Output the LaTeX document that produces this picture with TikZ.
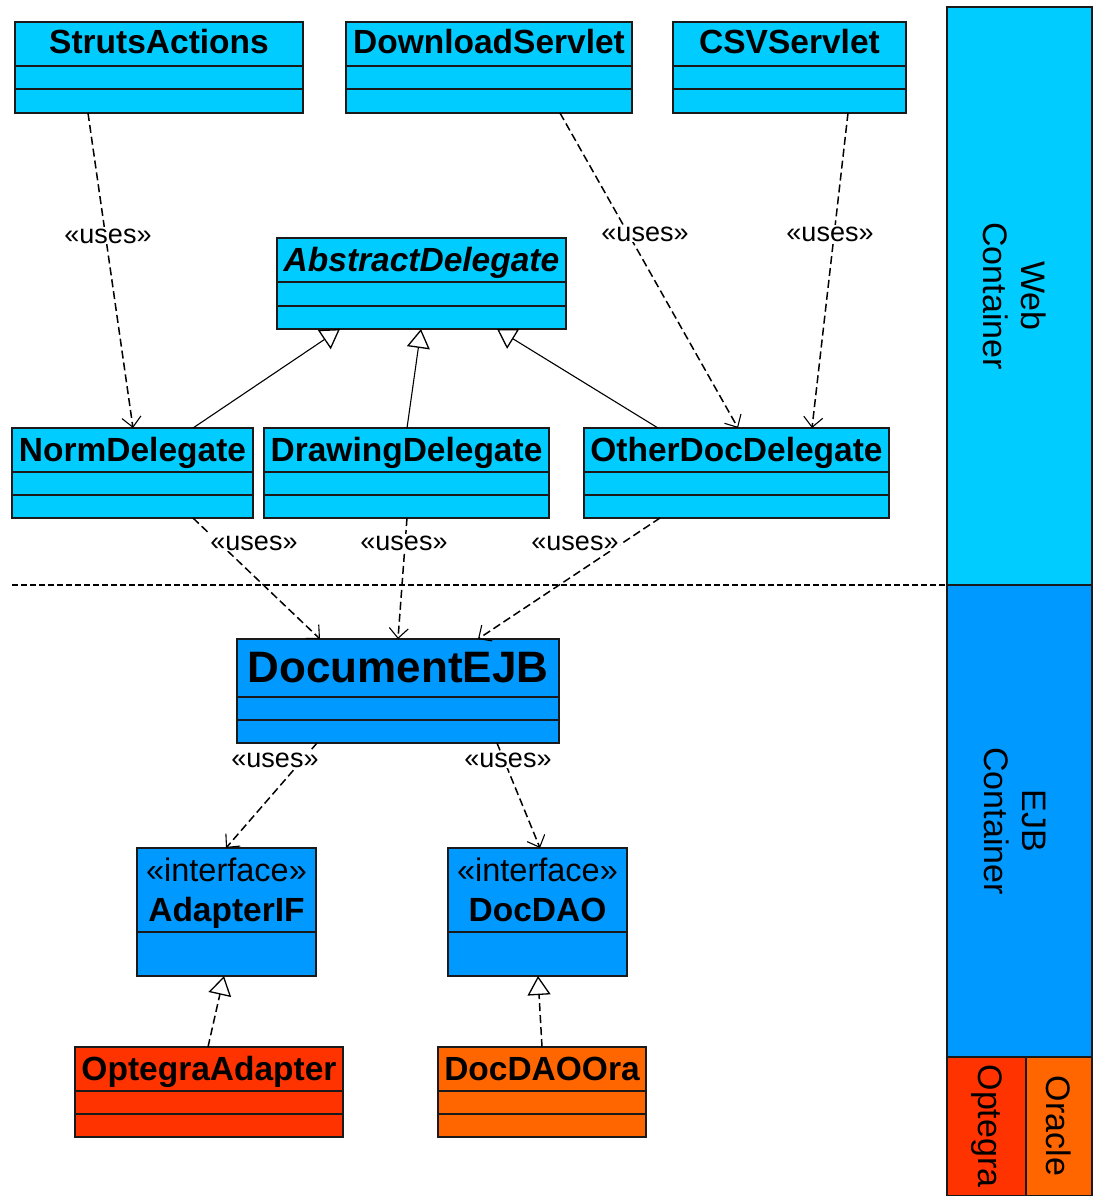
\documentclass[tikz,border=0pt]{standalone}
\usepackage{fontspec}
\setmainfont{Liberation Sans}
\usetikzlibrary{arrows.meta,fit}
\definecolor{lblue}{HTML}{00CCFF}
\definecolor{mblue}{HTML}{0099FF}
\definecolor{ored}{HTML}{FF3300}
\definecolor{oorange}{HTML}{FF6600}
\definecolor{edge}{HTML}{1A1A1A}
\tikzset{
  box/.style={draw=edge, line width=1.3pt, inner sep=0pt, outer sep=0pt},
  divider/.style={draw=edge, line width=1.2pt},
  title/.style={anchor=base, inner sep=0pt, font=\fontsize{33.5}{38}\selectfont\bfseries},
  stereo/.style={anchor=base, inner sep=0pt, font=\fontsize{32.5}{38}\selectfont},
  lbl/.style={anchor=base, fill=white, inner sep=1pt, font=\fontsize{27}{32}\selectfont},
  ctext/.style={rotate=-90, align=center, inner sep=0pt, font=\fontsize{34}{38}\selectfont},
  dep/.style={draw=black, line width=1.5pt, dash pattern=on 8pt off 4pt, -{Straight Barb[length=10pt,width=19pt,line width=1.1pt]}},
  gen/.style={draw=black, line width=1.1pt, -{Triangle[open,length=19pt,width=23pt,line width=1.3pt]}},
  real/.style={gen, line width=1.5pt, dash pattern=on 8pt off 4pt},
  sepline/.style={draw=black, line width=1.5pt, dash pattern=on 6pt off 3pt}
}
\newcommand{\classbox}[8]{%
  \node[box, fill=#8, fit={(#2,#3)(#4,#5)}] (#1) {};
  \draw[divider] (#2,#6) -- (#4,#6);
  \draw[divider] (#2,#7) -- (#4,#7);
}
\begin{document}
\begin{tikzpicture}[x=1pt,y=-1pt]
\useasboundingbox (0,0) rectangle (1092,1196);

% containers on the right
\node[box, fill=lblue, fit={(947,7)(1092,585)}] (webc) {};
\node[box, fill=mblue, fit={(947,585)(1092,1057)}] (ejbc) {};
\node[box, fill=ored, fit={(947,1057)(1026,1196)}] (optc) {};
\node[box, fill=oorange, fit={(1026,1057)(1092,1196)}] (orac) {};
\node[ctext] (webt) at (1015,296) {Web\\Container};
\node[ctext] (ejbt) at (1015,821) {EJB\\Container};
\node[ctext] (optt) at (987,1126) {Optegra};
\node[ctext] (orat) at (1059,1126) {Oracle};

% separator
\coordinate (sepL) at (12,585);
\draw[sepline] (sepL) -- (webc.south west);

% classes
\classbox{sa}{15}{22}{303}{113}{66}{89}{lblue}
\classbox{ds}{346}{22}{632}{113}{66}{89}{lblue}
\classbox{cs}{673}{22}{906}{113}{66}{89}{lblue}
\classbox{ad}{277}{238}{566}{329}{282}{306}{lblue}
\classbox{nd}{12}{428}{253}{518}{472}{495}{lblue}
\classbox{dd}{264}{428}{549}{518}{472}{495}{lblue}
\classbox{od}{584}{428}{889}{518}{472}{495}{lblue}
\classbox{ejb}{237}{639}{559}{743}{697}{720}{mblue}
\classbox{oa}{75}{1047}{343}{1137}{1091}{1114}{ored}
\classbox{dor}{438}{1047}{646}{1137}{1091}{1114}{oorange}
\node[box, fill=mblue, fit={(137,848)(316,976)}] (aif) {};
\draw[divider] (137,932) -- (316,932);
\node[box, fill=mblue, fit={(448,848)(627,976)}] (dao) {};
\draw[divider] (448,932) -- (627,932);

% titles
\node[title] (sa-t) at (159,54) {StrutsActions};
\node[title] (ds-t) at (489,54) {DownloadServlet};
\node[title] (cs-t) at (789.5,54) {CSVServlet};
\node[title, font=\fontsize{33.5}{38}\selectfont\bfseries\itshape] (ad-t) at (421.5,271) {AbstractDelegate};
\node[title] (nd-t) at (132.5,461) {NormDelegate};
\node[title] (dd-t) at (406.5,461) {DrawingDelegate};
\node[title] (od-t) at (736.5,461) {OtherDocDelegate};
\node[title, font=\fontsize{44}{50}\selectfont\bfseries] (ejb-t) at (398,682) {DocumentEJB};
\node[stereo] (aif-s) at (226.5,881) {«interface»};
\node[title] (aif-t) at (226.5,921) {AdapterIF};
\node[stereo] (dao-s) at (537.5,881) {«interface»};
\node[title] (dao-t) at (537.5,921) {DocDAO};
\node[title] (oa-t) at (209,1080) {OptegraAdapter};
\node[title] (dor-t) at (542,1080) {DocDAOOra};

% dependencies
\draw[dep] ([xshift=73pt]sa.south west) -- ([xshift=121pt]nd.north west);
\draw[dep] ([xshift=214pt]ds.south west) -- ([xshift=154pt]od.north west);
\draw[dep] ([xshift=175pt]cs.south west) -- ([xshift=228pt]od.north west);
\draw[dep] ([xshift=181pt]nd.south west) -- ([xshift=83pt]ejb.north west);
\draw[dep] ([xshift=143pt]dd.south west) -- ([xshift=161pt]ejb.north west);
\draw[dep] ([xshift=76pt]od.south west) -- ([xshift=241pt]ejb.north west);
\draw[dep] ([xshift=80pt]ejb.south west) -- ([xshift=89pt]aif.north west);
\draw[dep] ([xshift=260pt]ejb.south west) -- ([xshift=92pt]dao.north west);

% generalizations
\draw[gen] ([xshift=181pt]nd.north west) -- ([xshift=63pt]ad.south west);
\draw[gen] ([xshift=143pt]dd.north west) -- ([xshift=144pt]ad.south west);
\draw[gen] ([xshift=74pt]od.north west) -- ([xshift=220pt]ad.south west);

% realizations
\draw[real] ([xshift=133pt]oa.north west) -- ([xshift=87pt]aif.south west);
\draw[real] ([xshift=104pt]dor.north west) -- ([xshift=90pt]dao.south west);

% labels
\node[lbl] (l1) at (108,243) {«uses»};
\node[lbl] (l2) at (645,241) {«uses»};
\node[lbl] (l3) at (830,241) {«uses»};
\node[lbl] (l4) at (254,550) {«uses»};
\node[lbl] (l5) at (404,550) {«uses»};
\node[lbl] (l6) at (575,550) {«uses»};
\node[lbl] (l7) at (275,767) {«uses»};
\node[lbl] (l8) at (508,767) {«uses»};
\end{tikzpicture}
\end{document}
